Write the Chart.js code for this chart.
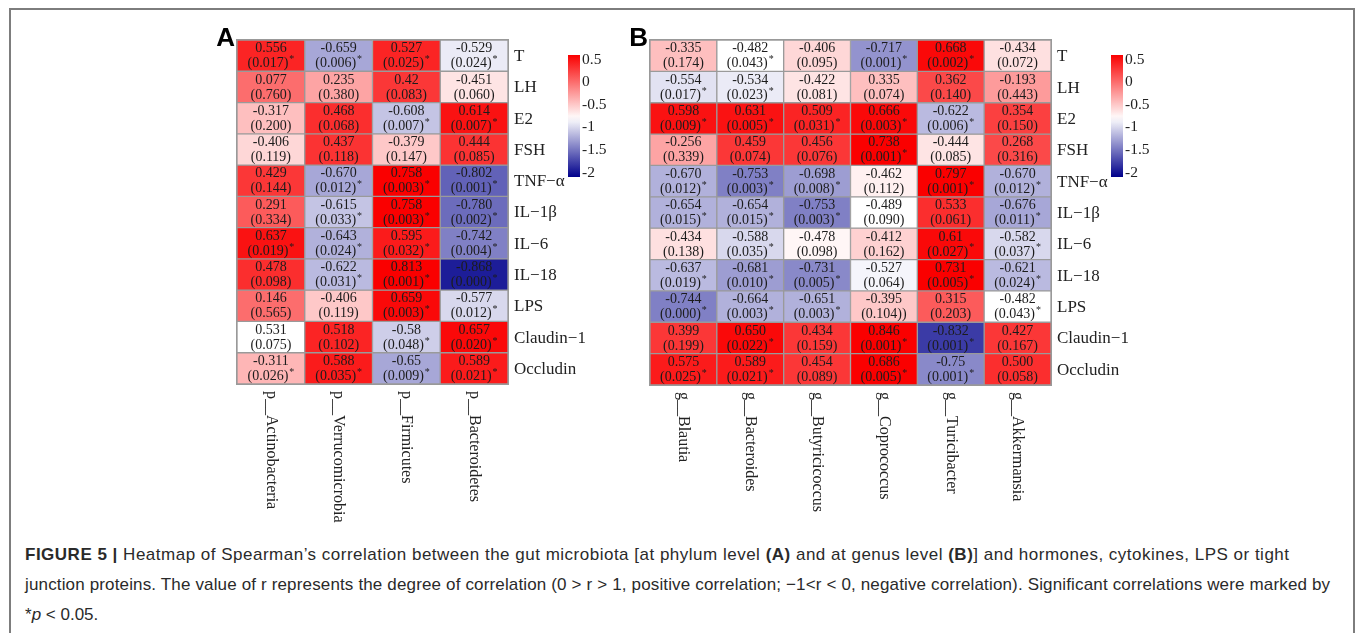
<!DOCTYPE html>
<html>
<head>
<meta charset="utf-8">
<script src="https://cdn.jsdelivr.net/npm/chart.js@4.4.1/dist/chart.umd.min.js"></script>
<style>
html,body{margin:0;padding:0;background:#fff;}
#page{position:relative;width:1355px;height:633px;overflow:hidden;background:#fff;}
#frame{position:absolute;left:9px;top:8px;width:1342px;height:700px;border:2px solid #7d7d7d;}
canvas{position:absolute;top:0;}
#cA{left:0;}
#cB{left:625px;}
#caption{position:absolute;left:25px;top:540px;font-family:"Liberation Sans",Arial,sans-serif;font-size:17px;line-height:30px;color:#2a2a2a;white-space:nowrap;}
#caption .l1{letter-spacing:0.5px;}
#caption .l2{letter-spacing:0.15px;}
</style>
</head>
<body>
<div id="page">
  <div id="frame"></div>
  <canvas id="cA" width="625" height="530"></canvas>
  <canvas id="cB" width="730" height="530"></canvas>
  <div id="caption"><div class="l1"><b>FIGURE 5 |</b> Heatmap of Spearman’s correlation between the gut microbiota [at phylum level <b>(A)</b> and at genus level <b>(B)</b>] and hormones, cytokines, LPS or tight</div><div class="l2">junction proteins. The value of r represents the degree of correlation (0 &gt; r &gt; 1, positive correlation; −1&lt;r &lt; 0, negative correlation). Significant correlations were marked by</div><div>*<i>p</i> &lt; 0.05.</div></div>
</div>
<script>
// rows shared by both panels
const rowLabels = ['T','LH','E2','FSH','TNF−α','IL−1β','IL−6','IL−18','LPS','Claudin−1','Occludin'];
const keyTicks = [0.5, 0, -0.5, -1, -1.5, -2];

// panel A: phylum level
const phylumCols = ['p__Actinobacteria','p__Verrucomicrobia','p__Firmicutes','p__Bacteroidetes'];
const phylumR = [
  ['0.556','-0.659','0.527','-0.529'],
  ['0.077','0.235','0.42','-0.451'],
  ['-0.317','0.468','-0.608','0.614'],
  ['-0.406','0.437','-0.379','0.444'],
  ['0.429','-0.670','0.758','-0.802'],
  ['0.291','-0.615','0.758','-0.780'],
  ['0.637','-0.643','0.595','-0.742'],
  ['0.478','-0.622','0.813','-0.868'],
  ['0.146','-0.406','0.659','-0.577'],
  ['0.531','0.518','-0.58','0.657'],
  ['-0.311','0.588','-0.65','0.589']
];
const phylumP = [
  ['0.017','0.006','0.025','0.024'],
  ['0.760','0.380','0.083','0.060'],
  ['0.200','0.068','0.007','0.007'],
  ['0.119','0.118','0.147','0.085'],
  ['0.144','0.012','0.003','0.001'],
  ['0.334','0.033','0.003','0.002'],
  ['0.019','0.024','0.032','0.004'],
  ['0.098','0.031','0.001','0.000'],
  ['0.565','0.119','0.003','0.012'],
  ['0.075','0.102','0.048','0.020'],
  ['0.026','0.035','0.009','0.021']
];
// where each cell's shade sits on the colour key (-2 .. 0.5)
const phylumShade = [
  [0.4,-1.25,0.4,-0.9],
  [0.0,-0.3,0.3,-0.65],
  [-0.45,0.35,-1.1,0.5],
  [-0.58,0.32,-0.5,0.32],
  [0.3,-1.25,0.6,-1.6],
  [0.1,-1.1,0.6,-1.55],
  [0.5,-1.2,0.45,-1.45],
  [0.35,-1.15,0.6,-1.95],
  [0.0,-0.5,0.55,-1.0],
  [-0.8,0.4,-1.05,0.55],
  [-0.4,0.45,-1.25,0.45]
];

// panel B: genus level
const genusCols = ['g__Blautia','g__Bacteroides','g__Butyricicoccus','g__Coprococcus','g__Turicibacter','g__Akkermansia'];
const genusR = [
  ['-0.335','-0.482','-0.406','-0.717','0.668','-0.434'],
  ['-0.554','-0.534','-0.422','0.335','0.362','-0.193'],
  ['0.598','0.631','0.509','0.666','-0.622','0.354'],
  ['-0.256','0.459','0.456','0.738','-0.444','0.268'],
  ['-0.670','-0.753','-0.698','-0.462','0.797','-0.670'],
  ['-0.654','-0.654','-0.753','-0.489','0.533','-0.676'],
  ['-0.434','-0.588','-0.478','-0.412','0.61','-0.582'],
  ['-0.637','-0.681','-0.731','-0.527','0.731','-0.621'],
  ['-0.744','-0.664','-0.651','-0.395','0.315','-0.482'],
  ['0.399','0.650','0.434','0.846','-0.832','0.427'],
  ['0.575','0.589','0.454','0.686','-0.75','0.500']
];
const genusP = [
  ['0.174','0.043','0.095','0.001','0.002','0.072'],
  ['0.017','0.023','0.081','0.074','0.140','0.443'],
  ['0.009','0.005','0.031','0.003','0.006','0.150'],
  ['0.339','0.074','0.076','0.001','0.085','0.316'],
  ['0.012','0.003','0.008','0.112','0.001','0.012'],
  ['0.015','0.015','0.003','0.090','0.061','0.011'],
  ['0.138','0.035','0.098','0.162','0.027','0.037'],
  ['0.019','0.010','0.005','0.064','0.005','0.024'],
  ['0.000','0.003','0.003','0.104)','0.203','0.043'],
  ['0.199','0.022','0.159','0.001','0.001','0.167'],
  ['0.025','0.021','0.089','0.005','0.001','0.058']
];
const genusShade = [
  [-0.45,-0.8,-0.58,-1.35,0.55,-0.63],
  [-0.95,-0.9,-0.65,-0.45,0.2,-0.25],
  [0.5,0.5,0.4,0.55,-1.15,0.25],
  [-0.3,0.3,0.3,0.6,-0.65,0.2],
  [-1.2,-1.45,-1.3,-0.72,0.6,-1.2],
  [-1.2,-1.2,-1.45,-0.8,0.35,-1.25],
  [-0.63,-1.0,-0.75,-0.55,0.55,-1.0],
  [-1.15,-1.3,-1.4,-0.85,0.6,-1.15],
  [-1.45,-1.2,-1.2,-0.5,0.1,-0.8],
  [0.3,0.55,0.3,0.6,-1.8,0.3],
  [0.45,0.45,0.3,0.6,-1.4,0.35]
];

const KEY_TOP = 0.6, KEY_BOT = -2.1, KEY_WHITE = -0.8;
function shade(s){
  s = Math.max(KEY_BOT, Math.min(KEY_TOP, s));
  let a, b;
  if(s >= KEY_WHITE){ a = [KEY_TOP,[250,0,0]]; b = [KEY_WHITE,[255,255,255]]; }
  else { a = [KEY_WHITE,[255,255,255]]; b = [KEY_BOT,[0,0,139]]; }
  const t = (a[0]-s)/(a[0]-b[0]);
  const c = a[1].map((v,i)=>Math.round(v+(b[1][i]-v)*t));
  return `rgb(${c.join(',')})`;
}

const serif = '"Liberation Serif","Times New Roman",serif';

function decor(letter, rVals, pVals){
  return {
    id:'decor',
    afterDatasetsDraw(chart){
      const ctx = chart.ctx, area = chart.chartArea;
      const xs = chart.scales.x, ys = chart.scales.y;
      ctx.save();
      // outer frame of the grid
      ctx.strokeStyle = '#999'; ctx.lineWidth = 1;
      ctx.strokeRect(area.left-0.5, area.top-0.5, area.right-area.left+1, area.bottom-area.top+1);

      // cell text
      ctx.fillStyle = '#1c1c1c';
      chart.data.datasets.forEach((ds, r)=>{
        chart.getDatasetMeta(r).data.forEach((bar, c)=>{
          const cy = (bar.y + bar.base)/2;
          ctx.font = '14px '+serif;
          ctx.textAlign = 'center'; ctx.textBaseline = 'middle';
          ctx.fillText(rVals[r][c], bar.x, cy-7);
          const ptxt = '('+pVals[r][c]+')';
          const sig = parseFloat(pVals[r][c]) < 0.05;
          const w = ctx.measureText(ptxt).width;
          ctx.font = '10px '+serif;
          const ws = sig ? ctx.measureText('*').width+1 : 0;
          ctx.font = '14px '+serif;
          ctx.textAlign = 'left';
          const x0 = bar.x - (w+ws)/2;
          ctx.fillText(ptxt, x0, cy+8);
          if(sig){ ctx.font = '10px '+serif; ctx.fillText('*', x0+w+1, cy+4); }
        });
      });

      // row labels on the right
      ctx.fillStyle = '#222';
      ctx.font = '17px '+serif;
      ctx.textAlign = 'left'; ctx.textBaseline = 'middle';
      rowLabels.forEach((lab, r)=>{
        ctx.fillText(lab, area.right+6, ys.getPixelForValue(r+0.5)+1);
      });

      // column labels, rotated clockwise
      ctx.font = '16px '+serif;
      chart.data.labels.forEach((lab, i)=>{
        ctx.save();
        ctx.translate(xs.getPixelForValue(i), area.bottom+7);
        ctx.rotate(Math.PI/2);
        ctx.textAlign = 'left'; ctx.textBaseline = 'middle';
        ctx.fillText(lab, 0, 0);
        ctx.restore();
      });

      // colour key
      const kx = area.right+60, kw = 12, kt = area.top+15, kb = area.top+137;
      const g = ctx.createLinearGradient(0, kt, 0, kb);
      for(let i=0;i<=20;i++){
        const s = KEY_TOP + (KEY_BOT-KEY_TOP)*i/20;
        g.addColorStop(i/20, shade(s));
      }
      ctx.fillStyle = g;
      ctx.fillRect(kx, kt, kw, kb-kt);
      ctx.fillStyle = '#222';
      ctx.font = '15.5px '+serif;
      ctx.textAlign = 'left'; ctx.textBaseline = 'middle';
      keyTicks.forEach(v=>{
        const y = kt + (KEY_TOP-v)/(KEY_TOP-KEY_BOT)*(kb-kt);
        ctx.fillText(String(v), kx+kw+2, y);
      });

      // panel letter
      ctx.fillStyle = '#000';
      ctx.font = 'bold 26px "Liberation Sans",Arial,sans-serif';
      ctx.textAlign = 'right'; ctx.textBaseline = 'alphabetic';
      ctx.fillText(letter, area.left-2, area.top+6);
      ctx.restore();
    }
  };
}

function heatmap(id, cols, rVals, pVals, shades, letter, pad){
  const datasets = rowLabels.map((name, r)=>({
    label: name,
    data: cols.map(()=>[r, r+1]),
    backgroundColor: shades[r].map(shade),
    borderColor: '#9a9a9a',
    borderWidth: 1,
    borderSkipped: false,
    grouped: false,
    barPercentage: 1,
    categoryPercentage: 1
  }));
  return new Chart(document.getElementById(id), {
    type: 'bar',
    data: { labels: cols, datasets },
    options: {
      responsive: false,
      animation: false,
      layout: { padding: pad },
      plugins: { legend: {display:false}, tooltip: {enabled:false} },
      scales: {
        x: { display:false },
        y: { display:false, min:0, max:rowLabels.length, reverse:true }
      }
    },
    plugins: [decor(letter, rVals, pVals)]
  });
}

heatmap('cA', phylumCols, phylumR, phylumP, phylumShade, 'A', {left:237, right:117, top:40, bottom:146});
heatmap('cB', genusCols, genusR, genusP, genusShade, 'B', {left:25, right:304, top:40, bottom:145});
</script>
</body>
</html>
